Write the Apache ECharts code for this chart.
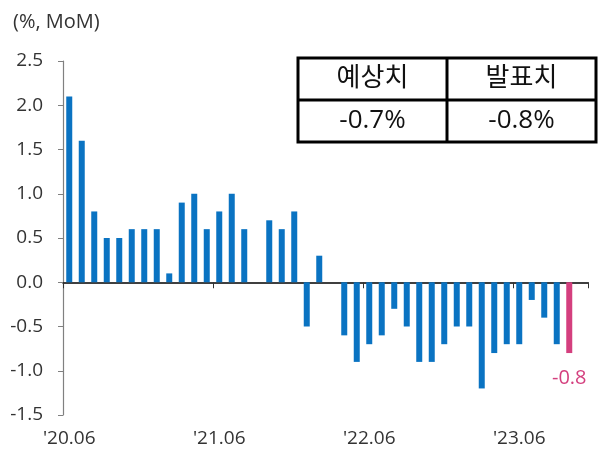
<!DOCTYPE html>
<html>
<head>
<meta charset="utf-8">
<script src="https://cdn.jsdelivr.net/npm/echarts@6/dist/echarts.min.js"></script>
<style>
  html, body { margin: 0; padding: 0; background: #fff; }
  #chart { width: 605px; height: 450px; }
</style>
</head>
<body>
<div id="chart"></div>
<script>
// monthly labels, '20.06 ~ '23.11 (last one empty)
let months = [
    "'20.06", "'20.07", "'20.08", "'20.09", "'20.10", "'20.11", "'20.12",
    "'21.01", "'21.02", "'21.03", "'21.04", "'21.05", "'21.06", "'21.07", "'21.08", "'21.09", "'21.10", "'21.11", "'21.12",
    "'22.01", "'22.02", "'22.03", "'22.04", "'22.05", "'22.06", "'22.07", "'22.08", "'22.09", "'22.10", "'22.11", "'22.12",
    "'23.01", "'23.02", "'23.03", "'23.04", "'23.05", "'23.06", "'23.07", "'23.08", "'23.09", "'23.10", "'23.11"
];
let mom_values = [
    2.1, 1.6, 0.8, 0.5, 0.5, 0.6, 0.6,
    0.6, 0.1, 0.9, 1.0, 0.6, 0.8, 1.0, 0.6, 0.0, 0.7, 0.6, 0.8,
    -0.5, 0.3, 0.0, -0.6, -0.9, -0.7, -0.6, -0.3, -0.5, -0.9, -0.9, -0.7,
    -0.5, -0.5, -1.2, -0.8, -0.7, -0.7, -0.2, -0.4, -0.7, -0.8, null
];
let highlight_index = 40;
let table_headers = ['예상치', '발표치'];
let table_values = ['-0.7%', '-0.8%'];

let font = '"Open Sans", "Noto Sans CJK KR", sans-serif';
let blue = '#0A73C2';
let pink = '#D43F7E';

let bar_data = mom_values.map(function (v, i) {
    if (i === highlight_index) {
        return {
            value: v,
            itemStyle: { color: pink },
            label: {
                show: true,
                position: 'bottom',
                distance: 15,
                color: pink,
                fontSize: 20,
                fontFamily: font,
                formatter: function (p) { return p.value.toFixed(1); }
            }
        };
    }
    return v;
});

// table box drawn with graphic
let tbl = { left: 298, top: 58, width: 298, height: 84 };
let col_w = tbl.width / 2;
let row_h = tbl.height / 2;
let table_elements = [
    { type: 'rect', shape: { x: tbl.left, y: tbl.top, width: tbl.width, height: tbl.height },
      style: { fill: '#fff', stroke: '#000', lineWidth: 3 }, z: 100 },
    { type: 'line', shape: { x1: tbl.left, y1: tbl.top + row_h, x2: tbl.left + tbl.width, y2: tbl.top + row_h },
      style: { stroke: '#000', lineWidth: 3 }, z: 101 },
    { type: 'line', shape: { x1: tbl.left + col_w, y1: tbl.top, x2: tbl.left + col_w, y2: tbl.top + tbl.height },
      style: { stroke: '#000', lineWidth: 3 }, z: 101 }
];
for (let i = 0; i < 2; i++) {
    table_elements.push({
        type: 'text', z: 102,
        x: tbl.left + col_w * (i + 0.5), y: tbl.top + row_h * 0.5,
        style: { text: table_headers[i], fill: '#111', font: '26px ' + font, align: 'center', verticalAlign: 'middle' }
    });
    table_elements.push({
        type: 'text', z: 102,
        x: tbl.left + col_w * (i + 0.5), y: tbl.top + row_h * 1.5,
        style: { text: table_values[i], fill: '#111', font: '26px ' + font, align: 'center', verticalAlign: 'middle' }
    });
}

var myChart = echarts.init(document.getElementById('chart'), null, { renderer: 'canvas' });
var option = {
    animation: false,
    title: {
        text: '(%, MoM)',
        left: 8,
        top: 7,
        textStyle: { fontFamily: font, fontSize: 20, fontWeight: 'normal', color: '#333' }
    },
    grid: { left: 63, right: 17, top: 61, bottom: 35 },
    xAxis: [
        {
            type: 'category',
            data: months,
            axisLine: { onZero: true, lineStyle: { color: '#000', width: 1.5 } },
            axisTick: { show: true, interval: 11, length: 6, lineStyle: { color: '#333' } },
            axisLabel: { show: false }
        },
        {
            type: 'category',
            data: months,
            position: 'bottom',
            axisLine: { show: false, onZero: false },
            axisTick: { show: false },
            axisLabel: { interval: 11, margin: 14, color: '#333', fontSize: 19, fontFamily: font }
        }
    ],
    yAxis: {
        type: 'value',
        min: -1.5,
        max: 2.5,
        interval: 0.5,
        axisLine: { show: true, lineStyle: { color: '#808080', width: 1.2 } },
        axisTick: { show: true, length: 5, lineStyle: { color: '#808080' } },
        splitLine: { show: false },
        axisLabel: {
            margin: 20,
            color: '#333',
            fontSize: 19,
            fontFamily: font,
            formatter: function (v) { return v.toFixed(1); }
        }
    },
    series: [
        {
            type: 'bar',
            xAxisIndex: 0,
            data: bar_data,
            barWidth: 6,
            itemStyle: { color: blue }
        }
    ],
    graphic: { elements: table_elements }
};
myChart.setOption(option);
</script>
</body>
</html>
